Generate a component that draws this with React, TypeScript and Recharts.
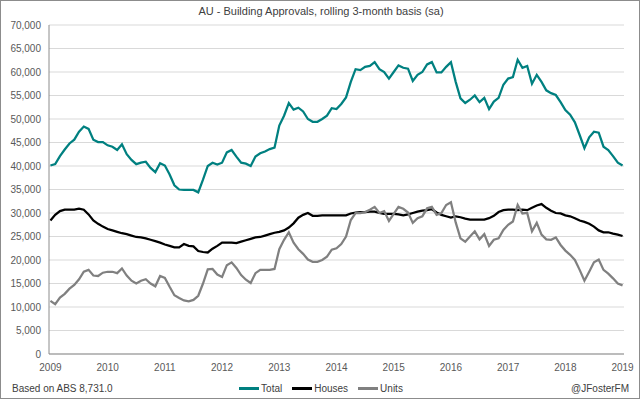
import { LineChart, Line, XAxis, YAxis, CartesianGrid } from "recharts";

// months since Jan 2009, rolling 3-month, seasonally adjusted
const startYear = 2009;
const yearTicks = ["2009", "2010", "2011", "2012", "2013", "2014", "2015", "2016", "2017", "2018", "2019"];
const valueTicks = [0, 5000, 10000, 15000, 20000, 25000, 30000, 35000, 40000, 45000, 50000, 55000, 60000, 65000, 70000];

const total = [
  40100, 40400, 42100, 43500, 44800, 45600, 47300, 48400, 47900, 45600, 45100, 45100,
  44400, 44100, 43400, 44600, 42500, 41300, 40400, 40700, 40900, 39600, 38700, 40600,
  40100, 38200, 35900, 35000, 34900, 34900, 34900, 34400, 37100, 40000, 40700, 40300,
  40700, 42900, 43400, 42000, 40700, 40500, 40000, 42000, 42700, 43100, 43600, 43900,
  48600, 50700, 53400, 52000, 52400, 51600, 50000, 49400, 49400, 50000, 50700, 52300,
  52100, 53200, 54600, 57900, 60600, 60400, 61100, 61300, 62100, 60600, 60000, 58600,
  60000, 61400, 60900, 60700, 58100, 59400, 60000, 61600, 62100, 59900, 59900, 61100,
  62100, 57900, 54400, 53400, 54100, 55000, 53600, 54500, 52100, 53700, 54500, 57300,
  58600, 58900, 62600, 60900, 61300, 57500, 59400, 57900, 56100, 55500, 55100, 53600,
  51900, 50900, 49300, 46600, 43800, 46100, 47300, 47100, 44100, 43400, 42100, 40700,
  40100,
];

const houses = [
  28400, 29600, 30400, 30700, 30700, 30700, 30900, 30700, 29700, 28400, 27700, 27100,
  26600, 26300, 26000, 25700, 25500, 25200, 24900, 24800, 24600, 24300, 24000, 23700,
  23300, 23000, 22700, 22700, 23400, 23000, 22900, 21900, 21700, 21600, 22400, 23000,
  23700, 23700, 23700, 23600, 23900, 24200, 24500, 24800, 24900, 25200, 25500, 25800,
  26000, 26300, 26900, 27800, 29000, 29600, 30000, 29400, 29400, 29500, 29500, 29500,
  29500, 29500, 29500, 29900, 30100, 30200, 30200, 30300, 30300, 30000, 29800, 29800,
  29800, 29700, 29500, 29700, 30000, 30300, 30500, 30600, 30800, 30100, 29600, 29300,
  29000, 29300, 29100, 28800, 28600, 28600, 28600, 28600, 28900, 29400, 30200, 30600,
  30700, 30700, 30600, 30700, 30600, 31100, 31600, 31900, 31100, 30500, 30000, 29900,
  29500, 29300, 28900, 28400, 28100, 27700, 27100, 26300, 25900, 25900, 25600, 25400,
  25100,
];

const units = [
  11300, 10600, 12000, 12800, 13900, 14700, 15900, 17500, 17900, 16700, 16600, 17300,
  17500, 17500, 17200, 18200, 16700, 15600, 15000, 15600, 15900, 15000, 14400, 16600,
  16200, 14300, 12500, 11900, 11400, 11200, 11500, 12400, 15000, 18000, 18100, 16900,
  16400, 18900, 19500, 18300, 16800, 15800, 15100, 17200, 17900, 17900, 17900, 18100,
  22300, 24300, 25900, 23700, 22300, 21300, 20100, 19600, 19600, 20000, 20700, 22200,
  22500, 23400, 25000, 28500, 30000, 30000, 30200, 30700, 31300, 30000, 30400, 28300,
  29800, 31300, 30900, 30100, 27900, 28900, 29300, 31000, 31300, 29600, 30000, 31700,
  32300, 28000, 24600, 23900, 25000, 26100, 24400, 25500, 23000, 24300, 24600, 26400,
  27500, 28200, 31700, 29900, 30000, 26100, 27900, 25400, 24400, 24300, 24800, 23200,
  22000, 21100, 20000, 17900, 15600, 17500, 19500, 20100, 17900, 17100, 16100, 15000,
  14600,
];

const series = [
  { key: "total", name: "Total", color: "#008080" },
  { key: "houses", name: "Houses", color: "#000000" },
  { key: "units", name: "Units", color: "#808080" },
];

const data = total.map((t, i) => ({ m: i, total: t, houses: houses[i], units: units[i] }));
const xTicks = yearTicks.map((y) => (Number(y) - startYear) * 12);

const font = "'Liberation Sans', Arial, sans-serif";
const tickStyle = { fill: "#595959", fontSize: 10, fontFamily: font };

export default function App() {
  return (
    <div
      style={{
        position: "relative",
        width: 640,
        height: 399,
        boxSizing: "border-box",
        border: "1px solid #8c8c8c",
        background: "#fff",
        fontFamily: font,
      }}
    >
      <style>{`body{margin:0}`}</style>
      <div
        style={{
          position: "absolute",
          top: 4,
          left: 0,
          width: 640,
          textAlign: "center",
          fontSize: 11,
          color: "#404040",
        }}
      >
        AU - Building Approvals, rolling 3-month basis (sa)
      </div>
      <div style={{ position: "absolute", left: 0, top: 0 }}>
        <LineChart width={638} height={397} data={data} margin={{ top: 24, right: 15, left: 0, bottom: 23 }}>
          <CartesianGrid vertical={false} stroke="#d9d9d9" />
          <XAxis
            type="number"
            dataKey="m"
            domain={[-0.3, 120.3]}
            ticks={xTicks}
            tickFormatter={(v) => String(startYear + v / 12)}
            tick={{ ...tickStyle, dy: 2 }}
            axisLine={{ stroke: "#8c8c8c" }}
            tickLine={false}
            height={21}
            interval={0}
          />
          <YAxis
            domain={[0, 70000]}
            ticks={valueTicks}
            tickFormatter={(v) => v.toLocaleString("en-US")}
            tick={tickStyle}
            axisLine={{ stroke: "#8c8c8c" }}
            tickLine={false}
            width={48}
            interval={0}
          />
          {series.map((s) => (
            <Line
              key={s.key}
              type="linear"
              dataKey={s.key}
              name={s.name}
              stroke={s.color}
              strokeWidth={2.25}
              dot={false}
              isAnimationActive={false}
            />
          ))}
        </LineChart>
      </div>
      <div style={{ position: "absolute", left: 11, top: 382, fontSize: 10, color: "#404040" }}>
        Based on ABS 8,731.0
      </div>
      <div style={{ position: "absolute", right: 10, top: 382, fontSize: 10, color: "#404040" }}>
        @JFosterFM
      </div>
      <div
        style={{
          position: "absolute",
          top: 382,
          left: 0,
          width: 640,
          display: "flex",
          justifyContent: "center",
          gap: 10,
          fontSize: 10,
          color: "#404040",
        }}
      >
        {series.map((s) => (
          <span key={s.key} style={{ display: "flex", alignItems: "center" }}>
            <span style={{ display: "inline-block", width: 20, height: 2.5, background: s.color, marginRight: 2 }} />
            {s.name}
          </span>
        ))}
      </div>
    </div>
  );
}
